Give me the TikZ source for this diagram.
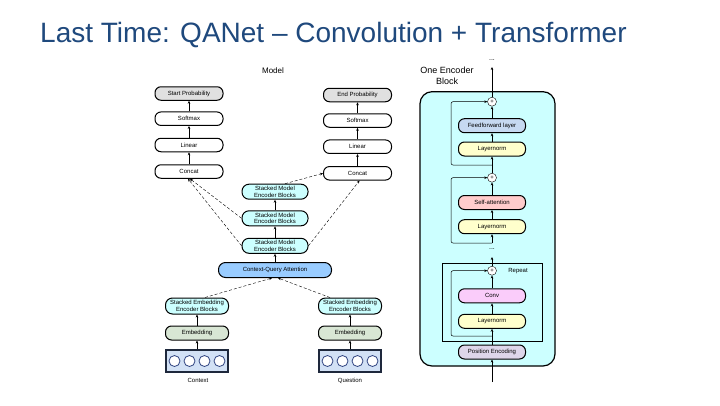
\documentclass[tikz,border=0pt]{standalone}
\usepackage{fontspec}
\setmainfont{Liberation Sans}
\usetikzlibrary{arrows.meta, positioning, calc}
\definecolor{titleblue}{RGB}{31,73,125}
\definecolor{cyanlt}{RGB}{204,255,255}
\definecolor{cqablue}{RGB}{153,204,255}
\definecolor{embgreen}{RGB}{216,230,212}
\definecolor{inblue}{RGB}{210,225,245}
\definecolor{inedge}{RGB}{30,40,60}
\definecolor{circedge}{RGB}{50,70,130}
\definecolor{ffblue}{RGB}{198,217,241}
\definecolor{lnyellow}{RGB}{255,255,204}
\definecolor{sapink}{RGB}{255,204,204}
\definecolor{convviolet}{RGB}{250,204,250}
\definecolor{pelav}{RGB}{222,214,234}
\definecolor{probgray}{RGB}{224,224,224}

\begin{document}
\begin{tikzpicture}[x=1pt, y=-1pt, font=\fontsize{6}{6.6}\selectfont,
    B/.style={draw, line width=1pt, rounded corners=6pt, minimum width=68pt, minimum height=13.5pt, inner sep=1pt, align=center},
    P/.style={B, fill=probgray},
    SM/.style={B, fill=cyanlt, minimum width=66pt, minimum height=15pt, rounded corners=7pt},
    CQ/.style={SM, fill=cqablue, minimum width=113pt},
    SE/.style={SM, minimum width=63pt, minimum height=16pt},
    EM/.style={B, fill=embgreen, minimum width=63pt, minimum height=14pt},
    IN/.style={draw=inedge, line width=1.5pt, fill=inblue, minimum width=62pt, minimum height=22pt},
    O/.style={circle, draw=circedge, fill=white, minimum size=11pt, inner sep=0pt, line width=0.8pt},
    L/.style={B, minimum width=67pt, minimum height=14pt},
    FF/.style={L, fill=ffblue},
    LN/.style={L, fill=lnyellow},
    SA/.style={L, fill=sapink},
    CV/.style={L, fill=convviolet},
    PE/.style={L, fill=pelav},
    pl/.style={circle, draw, fill=white, minimum size=9pt, inner sep=0pt, font=\fontsize{6}{6}\selectfont},
    arr/.style={-{Stealth[length=3pt, width=2.6pt]}, line width=0.5pt},
    da/.style={arr, densely dashed, line width=0.4pt},
    res/.style={arr, rounded corners=2pt}
  ]
  \useasboundingbox (0,0) rectangle (720,405);
  \fill[white] (0,0) rectangle (720,405);
  % title
  \node[anchor=base west, inner sep=0pt, font=\fontsize{28}{30}\selectfont, text=titleblue] (title) at (40,42.5) {Last Time: QANet -- Convolution + Transformer};

  % model: output heads
  \node[font=\fontsize{8}{9}\selectfont] (model) at (273,71) {Model};
  \node[P] (sp) at (189,93.5) {Start Probability};
  \node[B] (sm1) at (189,118.7) {Softmax};
  \node[B] (ln1) at (189,145) {Linear};
  \node[B] (cc1) at (189,171.5) {Concat};
  \node[P] (ep) at (357.5,95) {End Probability};
  \node[B] (sm2) at (357.5,120.5) {Softmax};
  \node[B] (ln2) at (357.5,146.7) {Linear};
  \node[B] (cc2) at (357.5,173.3) {Concat};
  % stacked model encoders
  \node[SM] (m2) at (275,191.7) {Stacked Model\\Encoder Blocks};
  \node[SM] (m1) at (275,218.3) {Stacked Model\\Encoder Blocks};
  \node[SM] (m0) at (275,245.8) {Stacked Model\\Encoder Blocks};
  \node[CQ] (cqa) at (275,270) {Context-Query Attention};
  % embedding side
  \node[SE] (e1) at (197,306) {Stacked Embedding\\Encoder Blocks};
  \node[SE] (e2) at (350,306) {Stacked Embedding\\Encoder Blocks};
  \node[EM] (em1) at (197,333) {Embedding};
  \node[EM] (em2) at (350,333) {Embedding};
  \node[IN] (in1) at (197,361) {};
  \node[IN] (in2) at (350,361) {};
  \foreach \i [count=\k] in {-22.5,-7.5,7.5,22.5} {
    \node[O] (a\k) at ($(in1)+(\i,0)$) {};
    \node[O] (q\k) at ($(in2)+(\i,0)$) {};
  }
  \node (ctx) at (198,380.5) {Context};
  \node (qst) at (350,380.5) {Question};

  \draw[arr] (cc1) -- (ln1);
  \draw[arr] (ln1) -- (sm1);
  \draw[arr] (sm1) -- (sp);
  \draw[arr] (cc2) -- (ln2);
  \draw[arr] (ln2) -- (sm2);
  \draw[arr] (sm2) -- (ep);
  \draw[arr] (m0) -- (m1);
  \draw[arr] (m1) -- (m2);
  \draw[arr] (cqa) -- (m0);
  \draw[arr] (in1) -- (em1);
  \draw[arr] (em1) -- (e1);
  \draw[arr] (in2) -- (em2);
  \draw[arr] (em2) -- (e2);
  % skip links into the heads
  \draw[da] (m1.west) -- ([xshift=1pt]cc1.south);
  \draw[da] (m0.west) -- ([xshift=-1pt]cc1.south);
  \draw[da] ([xshift=10pt]m2.north) -- (cc2.west);
  \draw[da] (m0.east) -- ([xshift=2pt]cc2.south);
  \draw[da] ([xshift=8pt]e1.north) -- ([xshift=-3pt]cqa.south);
  \draw[da] ([xshift=-20pt]e2.north) -- ([xshift=3pt]cqa.south);

  % one encoder block
  \node[font=\fontsize{9}{11}\selectfont, align=center] (oeb) at (447,75.5) {One Encoder\\Block};
  \draw[line width=1.2pt, fill=cyanlt, rounded corners=12pt] (420,91.7) rectangle (555,366);
  \draw[line width=0.8pt] (442,263.3) rectangle (542,341.7);
  \node[PE] (pe) at (492,352) {Position Encoding};
  \node[LN] (rln) at (492,321.3) {Layernorm};
  \node[CV] (cv) at (492,295.8) {Conv};
  \node[pl] (pl3) at (492,270.7) {+};
  \node (rep) at (518,270.7) {Repeat};
  \node[font=\fontsize{7}{7}\selectfont] (dd2) at (492,249) {...};
  \node[LN] (ln4) at (492,226.7) {Layernorm};
  \node[SA] (sa) at (492,202.5) {Self-attention};
  \node[pl] (pl2) at (492,177.7) {+};
  \node[LN] (ln3) at (492,149) {Layernorm};
  \node[FF] (ff) at (492,125.7) {Feedforward layer};
  \node[pl] (pl1) at (492,101.7) {+};
  \node[font=\fontsize{7}{7}\selectfont] (dd1) at (492,60) {...};

  \coordinate (bot) at (492,382);
  \coordinate (b3) at (492,336);
  \coordinate (r3) at (451,336);
  \coordinate (t3) at (492,257);
  \coordinate (b2) at (492,243);
  \coordinate (r2) at (451,243);
  \coordinate (b1) at (492,165);
  \coordinate (r1) at (451,165);
  \coordinate (top) at (492,67);

  \draw[arr] (bot) -- (pe);
  \draw[arr] (pe) -- (rln);
  \draw[res] (b3) -- (r3) |- (pl3);
  \draw[arr] (rln) -- (cv);
  \draw[arr] (cv) -- (pl3);
  \draw[arr] (pl3) -- (t3);
  \draw[arr] (b2) -- (ln4);
  \draw[res] (b2) -- (r2) |- (pl2);
  \draw[arr] (ln4) -- (sa);
  \draw[arr] (sa) -- (pl2);
  \draw[arr] (pl2) -- (ln3);
  \draw[res] (b1) -- (r1) |- (pl1);
  \draw[arr] (ln3) -- (ff);
  \draw[arr] (ff) -- (pl1);
  \draw[arr] (pl1) -- (top);
\end{tikzpicture}
\end{document}
